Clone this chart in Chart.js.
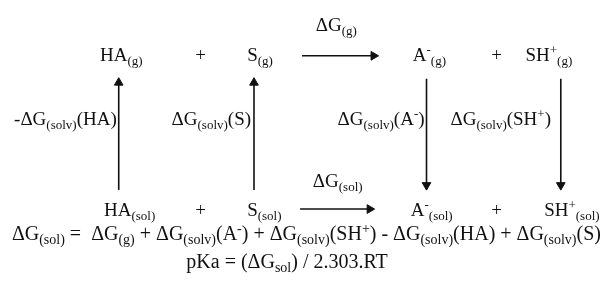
<!DOCTYPE html>
<html>
<head>
<meta charset="utf-8">
<script src="https://cdn.jsdelivr.net/npm/chart.js"></script>
<style>
  html, body { margin: 0; padding: 0; background: #fff; }
  #wrap { width: 606px; height: 285px; }
</style>
</head>
<body>
<div id="wrap"><canvas id="cycle"></canvas></div>
<script>
// species: gas phase (top row) and solution (bottom row)
const gasRow = ["HA_{(g)}", "+", "S_{(g)}", "A^{-}_{(g)}", "+", "SH^{+}_{(g)}"];
const solRow = ["HA_{(sol)}", "+", "S_{(sol)}", "A^{-}_{(sol)}", "+", "SH^{+}_{(sol)}"];
// solvation steps (vertical arrows) and reaction steps (horizontal arrows)
const solvLabels = ["-ΔG_{(solv)}(HA)", "ΔG_{(solv)}(S)", "ΔG_{(solv)}(A^{-})", "ΔG_{(solv)}(SH^{+})"];
const stepLabels = ["ΔG_{(g)}", "ΔG_{(sol)}"];
const equations = [
  "ΔG_{(sol)} =  ΔG_{(g)} + ΔG_{(solv)}(A^{-}) + ΔG_{(solv)}(SH^{+}) - ΔG_{(solv)}(HA) + ΔG_{(solv)}(S)",
  "pKa = (ΔG_{sol}) / 2.303.RT"
];

// layout of the diagram, in canvas-sized units
const gasX = [96, 193, 246, 415, 495, 530], gasY = 57;
const solX = [100, 193, 246, 413, 495, 549], solY = 219;
const solvRight = [113, 250, 427, 556], solvY = 124;
const stepX = [316, 313], stepY = [26, 189];
const eqX = [6, 184], eqY = [244, 273];
const arrows = [
  { from: [302, 52], to: [380, 52] },   // gas reaction
  { from: [300, 212], to: [376, 212] }, // solution reaction
  { from: [115, 192], to: [115, 75] },  // HA solvation (reversed)
  { from: [253, 192], to: [253, 75] },  // S solvation (reversed)
  { from: [429, 76], to: [429, 192] },  // A- solvation
  { from: [566, 76], to: [566, 192] }   // SH+ solvation
];

const FONT = '"Liberation Serif", "Times New Roman", serif';
const INK = '#111';
const HEAD = 5;

function parse(str) {
  const out = [];
  const re = /([_^])\{([^}]*)\}|([^_^]+)/g;
  let m;
  while ((m = re.exec(str))) {
    if (m[3]) out.push({ t: m[3], k: 'n' });
    else out.push({ t: m[2], k: m[1] === '_' ? 'sub' : 'sup' });
  }
  return out;
}

function segFont(k, size) {
  return (k === 'n' ? size : Math.round(size * 0.68)) + 'px ' + FONT;
}
function segShift(k, size) {
  return k === 'sub' ? Math.round(size * 0.21) : k === 'sup' ? -Math.round(size * 0.37) : 0;
}

function richWidth(ctx, str, size) {
  let w = 0;
  parse(str).forEach(s => { ctx.font = segFont(s.k, size); w += ctx.measureText(s.t).width; });
  return w;
}

function drawRich(ctx, str, px, py, size, align) {
  let cx = align === 'right' ? px - richWidth(ctx, str, size) : px;
  parse(str).forEach(s => {
    ctx.font = segFont(s.k, size);
    ctx.fillText(s.t, cx, py + segShift(s.k, size));
    cx += ctx.measureText(s.t).width;
  });
}

const textPlugin = {
  id: 'cycleText',
  afterDatasetsDraw(chart) {
    const { ctx, scales: { x, y } } = chart;
    ctx.save();
    ctx.fillStyle = INK;
    ctx.textBaseline = 'alphabetic';
    gasRow.forEach((s, i) => drawRich(ctx, s, x.getPixelForValue(gasX[i]), y.getPixelForValue(gasY), 19));
    solRow.forEach((s, i) => drawRich(ctx, s, x.getPixelForValue(solX[i]), y.getPixelForValue(solY), 19));
    solvLabels.forEach((s, i) => drawRich(ctx, s, x.getPixelForValue(solvRight[i]), y.getPixelForValue(solvY), 19, 'right'));
    stepLabels.forEach((s, i) => drawRich(ctx, s, x.getPixelForValue(stepX[i]), y.getPixelForValue(stepY[i]), 19));
    equations.forEach((s, i) => drawRich(ctx, s, x.getPixelForValue(eqX[i]), y.getPixelForValue(eqY[i]), 20));
    ctx.restore();
  }
};

// each arrow: shaft ends at the centre of the triangle head, tip lands on "to"
const datasets = arrows.map(a => {
  const dx = a.to[0] - a.from[0], dy = a.to[1] - a.from[1];
  const len = Math.hypot(dx, dy);
  const ux = dx / len, uy = dy / len;
  const head = { x: a.to[0] - ux * HEAD, y: a.to[1] - uy * HEAD };
  // triangle points up at rotation 0; screen y grows downward
  const rot = Math.atan2(ux, -uy) * 180 / Math.PI;
  return {
    data: [{ x: a.from[0], y: a.from[1] }, head],
    showLine: true,
    borderColor: INK,
    borderWidth: 1.6,
    backgroundColor: INK,
    pointStyle: 'triangle',
    pointRadius: [0, HEAD],
    pointRotation: [0, rot],
    pointBorderWidth: 1,
    pointBorderColor: INK,
    pointBackgroundColor: INK
  };
});

new Chart(document.getElementById('cycle'), {
  type: 'scatter',
  data: { datasets },
  options: {
    responsive: true,
    maintainAspectRatio: false,
    animation: false,
    events: [],
    layout: { padding: 0 },
    plugins: { legend: { display: false }, tooltip: { enabled: false } },
    scales: {
      x: { type: 'linear', min: 0, max: 606, display: false },
      y: { type: 'linear', min: 0, max: 285, reverse: true, display: false }
    }
  },
  plugins: [textPlugin]
});
</script>
</body>
</html>
